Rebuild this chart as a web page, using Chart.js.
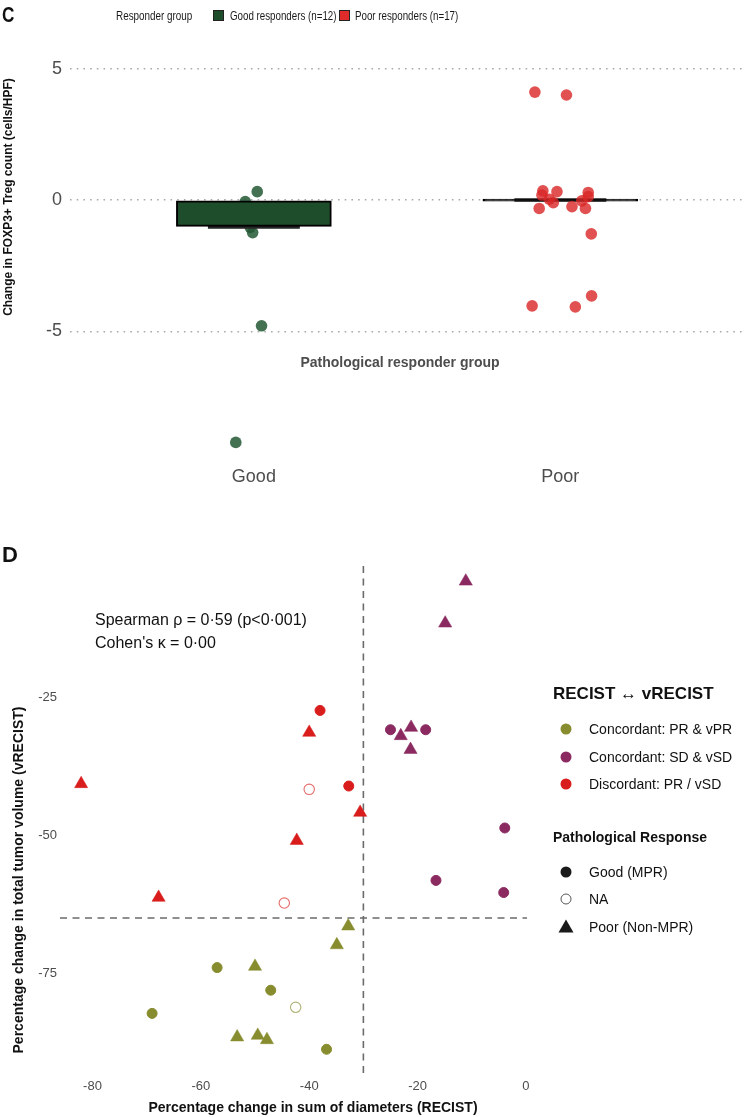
<!DOCTYPE html>
<html>
<head>
<meta charset="utf-8">
<script src="https://cdn.jsdelivr.net/npm/chart.js@4.4.1/dist/chart.umd.min.js"></script>
<style>
  html, body { margin: 0; padding: 0; background: #fff; }
  body { width: 750px; height: 1117px; position: relative; overflow: hidden;
         font-family: "Liberation Sans", Arial, sans-serif; }
  canvas { position: absolute; left: 0; }
  .t { position: absolute; white-space: nowrap; line-height: 1; transform-origin: left center; }
  .sq { position: absolute; width: 9px; height: 9px; border: 1px solid #222; }
</style>
</head>
<body>
<canvas id="chartC" width="750" height="540" style="top:0px"></canvas>
<canvas id="chartD" width="750" height="577" style="top:540px"></canvas>
<svg id="legD" width="40" height="240" style="position:absolute;left:546px;top:712px;overflow:visible"></svg>
<script>
// ---------------- Panel C data ----------------
const responderGroups = ['Good', 'Poor'];
const responderLegend = ['Good responders (n=12)', 'Poor responders (n=17)'];
const goodJitter = [1.011, 0.972, 0.937, 0.988, 0.996, 1.025, 0.941, 0.918, 1.047, 1.079, 0.966, 1.021];
const goodChange = [0.32, -0.06, -0.82, -1.04, -1.24, -4.79, -9.23, -0.35, -0.55, -0.25, -0.68, -0.45];
const poorJitter = [1.917, 2.020, 1.943, 1.989, 2.091, 1.940, 2.091, 1.964, 2.070, 1.977, 1.931, 2.038, 2.082, 2.101, 2.102, 1.908, 2.049];
const poorChange = [4.11, 4.00, 0.35, 0.32, 0.29, 0.19, 0.13, 0.03, -0.03, -0.10, -0.32, -0.25, -0.32, -1.29, -3.65, -4.03, -4.07];
const summaryBar = [-1.0, 0.0];
const summaryMedian = [-1.03, 0.0];
const yTicksC = [-5, 0, 5];

// ---------------- Panel D data ----------------
const xTicksD = [-80, -60, -40, -20, 0];
const yTicksD = [-25, -50, -75];
const recistCut = -30;
const vrecistCut = -65;
// Concordant PR & vPR
const prGoodX = [-57.0, -47.1, -69.0, -36.8];
const prGoodY = [-74.0, -78.1, -82.3, -88.8];
const prNaX = [-42.5];
const prNaY = [-81.2];
const prPoorX = [-32.8, -34.9, -50.0, -53.3, -49.5, -47.8];
const prPoorY = [-66.5, -69.9, -73.8, -86.6, -86.3, -87.1];
// Concordant SD & vSD
const sdGoodX = [-25.0, -18.5, -3.9, -16.6, -4.1];
const sdGoodY = [-30.9, -30.9, -48.7, -58.2, -60.4];
const sdPoorX = [-11.1, -14.9, -21.2, -23.1, -21.3];
const sdPoorY = [-4.0, -11.6, -30.5, -32.0, -34.5];
// Discordant PR / vSD
const dcGoodX = [-38.0, -32.7];
const dcGoodY = [-27.4, -41.1];
const dcNaX = [-40.0, -44.6];
const dcNaY = [-41.7, -62.3];
const dcPoorX = [-82.1, -40.0, -30.6, -42.3, -67.8];
const dcPoorY = [-40.7, -31.4, -45.9, -51.0, -61.3];

const concordLabels = ['Concordant: PR & vPR', 'Concordant: SD & vSD', 'Discordant: PR / vSD'];
const pathLabels = ['Good (MPR)', 'NA', 'Poor (Non-MPR)'];

// ---------------- styles ----------------
const FONT = '"Liberation Sans", Arial, sans-serif';
Chart.defaults.font.family = FONT;
const greenFill = '#1e4d2b';
const greenPt = 'rgba(35,88,52,0.85)';
const redFill = '#e02b2b';
const redPt = 'rgba(218,38,38,0.8)';
const olive = '#878c2e', purple = '#8b2a61', red = '#d91c1c';
const concordColors = [olive, purple, red];
function rgba(hex, a) {
  const n = parseInt(hex.slice(1), 16);
  return `rgba(${(n >> 16) & 255},${(n >> 8) & 255},${n & 255},${a})`;
}
const zip = (xs, ys) => xs.map((x, i) => ({ x: x, y: ys[i] }));

// ---------------- helper for HTML text ----------------
function addText(txt, left, cy, size, weight, color, sx) {
  const d = document.createElement('div');
  d.className = 't';
  d.textContent = txt;
  d.style.left = left + 'px';
  d.style.top = (cy - size / 2) + 'px';
  d.style.fontSize = size + 'px';
  d.style.fontWeight = weight;
  d.style.color = color;
  if (sx) d.style.transform = `scaleX(${sx})`;
  document.body.appendChild(d);
  return d;
}
function addSquare(left, top, color) {
  const d = document.createElement('div');
  d.className = 'sq';
  d.style.left = left + 'px';
  d.style.top = top + 'px';
  d.style.background = color;
  document.body.appendChild(d);
}

// ---------------- Panel C chart ----------------
const titlesC = {
  id: 'titlesC',
  afterDraw(chart) {
    const ctx = chart.ctx;
    ctx.save();
    ctx.fillStyle = '#111';
    ctx.font = `bold 12px ${FONT}`;
    ctx.textAlign = 'center';
    ctx.textBaseline = 'middle';
    ctx.translate(9, 197);
    ctx.rotate(-Math.PI / 2);
    ctx.fillText('Change in FOXP3+ Treg count (cells/HPF)', 0, 0);
    ctx.restore();
    ctx.save();
    ctx.fillStyle = '#4d4d4d';
    ctx.font = `bold 14px ${FONT}`;
    ctx.textAlign = 'center';
    ctx.textBaseline = 'middle';
    ctx.fillText('Pathological responder group', 400, 363);
    ctx.restore();
  }
};

const medianSegs = [];
responderGroups.forEach((g, i) => {
  if (i > 0) medianSegs.push({ x: i + 0.5, y: null });
  medianSegs.push({ x: i + 1 - 0.15, y: summaryMedian[i] });
  medianSegs.push({ x: i + 1 + 0.15, y: summaryMedian[i] });
});

new Chart(document.getElementById('chartC'), {
  type: 'scatter',
  data: {
    datasets: [
      {
        type: 'scatter', label: responderLegend[0], order: 5,
        data: zip(goodJitter, goodChange),
        backgroundColor: greenPt, borderWidth: 0, pointRadius: 5.8
      },
      {
        type: 'line', label: 'median', order: 4,
        data: medianSegs, spanGaps: false,
        borderColor: '#262626', borderWidth: 3.5, pointRadius: 0, fill: false
      },
      {
        type: 'bar', label: 'summary', order: 3,
        data: responderGroups.map((g, i) => ({ x: i + 1, y: summaryBar[i] })),
        backgroundColor: [greenFill, '#111111'], borderColor: '#000', borderWidth: 2,
        borderSkipped: false, barThickness: 155, minBarLength: 2
      },
      {
        type: 'scatter', label: responderLegend[1], order: 1,
        data: zip(poorJitter, poorChange),
        backgroundColor: redPt, borderWidth: 0, pointRadius: 5.8
      }
    ]
  },
  options: {
    responsive: false, animation: false, devicePixelRatio: 1,
    layout: { padding: { top: 53, right: 0, bottom: 0, left: 0 } },
    plugins: { legend: { display: false }, tooltip: { enabled: false } },
    scales: {
      x: {
        type: 'linear', min: 0.4, max: 2.6, offset: false,
        afterBuildTicks: s => { s.ticks = responderGroups.map((g, i) => ({ value: i + 1 })); },
        afterFit: s => { s.height = 80; },
        grid: { display: false, drawTicks: false, offset: false },
        border: { display: false },
        ticks: {
          autoSkip: false, maxRotation: 0, padding: 6,
          font: { size: 18 }, color: '#4d4d4d',
          callback: v => responderGroups[Math.round(v) - 1] || ''
        }
      },
      y: {
        type: 'linear', min: -9.9, max: 5.6,
        afterBuildTicks: s => { s.ticks = yTicksC.map(v => ({ value: v })); },
        afterFit: s => { s.width = 70; },
        grid: { color: '#a9a9a9', lineWidth: 1.6, drawTicks: false },
        border: { display: false, dash: [1.6, 5.1] },
        ticks: { padding: 8, font: { size: 18 }, color: '#4d4d4d' }
      }
    }
  },
  plugins: [titlesC]
});

// ---------------- Panel D chart ----------------
const xMinD = -86, xMaxD = 0.2, yMinD = -93.1, yMaxD = -0.5;

const titlesD = {
  id: 'titlesD',
  afterDraw(chart) {
    const ctx = chart.ctx;
    ctx.save();
    ctx.fillStyle = '#111';
    ctx.font = `bold 14px ${FONT}`;
    ctx.textAlign = 'center';
    ctx.textBaseline = 'middle';
    ctx.fillText('Percentage change in sum of diameters (RECIST)', 313, 568);
    ctx.translate(19, 340);
    ctx.rotate(-Math.PI / 2);
    ctx.fillText('Percentage change in total tumor volume (vRECIST)', 0, 0);
    ctx.restore();
  }
};

function solid(label, xs, ys, color) {
  return { type: 'scatter', label, data: zip(xs, ys), pointStyle: 'circle',
           backgroundColor: color, borderColor: color, borderWidth: 1, pointRadius: 5, order: 1 };
}
function open(label, xs, ys, color) {
  return { type: 'scatter', label, data: zip(xs, ys), pointStyle: 'circle',
           backgroundColor: 'rgba(0,0,0,0)', borderColor: rgba(color, 0.65), borderWidth: 1.1, pointRadius: 5.2, order: 1 };
}
function tri(label, xs, ys, color) {
  return { type: 'scatter', label, data: zip(xs, ys), pointStyle: 'triangle',
           backgroundColor: color, borderColor: color, borderWidth: 0.5, pointRadius: 7.6, order: 1 };
}

new Chart(document.getElementById('chartD'), {
  type: 'scatter',
  data: {
    datasets: [
      { type: 'line', label: 'RECIST cut', order: 9,
        data: [{ x: recistCut, y: yMinD }, { x: recistCut, y: yMaxD }],
        borderColor: '#6b6b6b', borderWidth: 1.6, borderDash: [7, 5.5], pointRadius: 0, fill: false },
      { type: 'line', label: 'vRECIST cut', order: 9,
        data: [{ x: xMinD, y: vrecistCut }, { x: xMaxD, y: vrecistCut }],
        borderColor: '#6b6b6b', borderWidth: 1.6, borderDash: [7, 5.5], pointRadius: 0, fill: false },
      solid(concordLabels[0] + ' / ' + pathLabels[0], prGoodX, prGoodY, olive),
      open(concordLabels[0] + ' / ' + pathLabels[1], prNaX, prNaY, olive),
      tri(concordLabels[0] + ' / ' + pathLabels[2], prPoorX, prPoorY, olive),
      solid(concordLabels[1] + ' / ' + pathLabels[0], sdGoodX, sdGoodY, purple),
      tri(concordLabels[1] + ' / ' + pathLabels[2], sdPoorX, sdPoorY, purple),
      solid(concordLabels[2] + ' / ' + pathLabels[0], dcGoodX, dcGoodY, red),
      open(concordLabels[2] + ' / ' + pathLabels[1], dcNaX, dcNaY, red),
      tri(concordLabels[2] + ' / ' + pathLabels[2], dcPoorX, dcPoorY, red)
    ]
  },
  options: {
    responsive: false, animation: false, devicePixelRatio: 1,
    layout: { padding: { top: 22, right: 223, bottom: 0, left: 0 } },
    plugins: { legend: { display: false }, tooltip: { enabled: false } },
    scales: {
      x: {
        type: 'linear', min: xMinD, max: xMaxD,
        afterBuildTicks: s => { s.ticks = xTicksD.map(v => ({ value: v })); },
        afterFit: s => { s.height = 44; },
        grid: { display: false, drawTicks: false },
        border: { display: false },
        ticks: { padding: 6, font: { size: 13 }, color: '#4d4d4d', maxRotation: 0, autoSkip: false }
      },
      y: {
        type: 'linear', min: yMinD, max: yMaxD,
        afterBuildTicks: s => { s.ticks = yTicksD.map(v => ({ value: v })); },
        afterFit: s => { s.width = 60; },
        grid: { display: false, drawTicks: false },
        border: { display: false },
        ticks: { padding: 3, font: { size: 13 }, color: '#4d4d4d' }
      }
    }
  },
  plugins: [titlesD]
});

// ---------------- HTML text: panel letters, legends, annotations ----------------
addText('C', 2, 15, 22, 'bold', '#111', 0.78);
addText('Responder group', 116, 15, 13, 'normal', '#1a1a1a', 0.76);
addSquare(213, 10, greenFill);
addText(responderLegend[0], 230, 15, 13, 'normal', '#1a1a1a', 0.75);
addSquare(339, 10, redFill);
addText(responderLegend[1], 355, 15, 13, 'normal', '#1a1a1a', 0.75);

addText('D', 2, 555, 22, 'bold', '#111');
addText('Spearman \u03c1 = 0\u00b759 (p<0\u00b7001)', 95, 620, 16, 'normal', '#111');
addText("Cohen's \u03ba = 0\u00b700", 95, 643, 16, 'normal', '#111');

addText('RECIST \u2194 vRECIST', 553, 693, 17, 'bold', '#111');
const legYs1 = [729, 757, 784];
concordLabels.forEach((l, i) => addText(l, 589, legYs1[i], 14, 'normal', '#111'));
addText('Pathological Response', 553, 837, 14, 'bold', '#111');
const legYs2 = [872, 899, 927];
pathLabels.forEach((l, i) => addText(l, 589, legYs2[i], 14, 'normal', '#111'));

// legend glyphs (svg positioned at left 546, top 712)
(function () {
  const svg = document.getElementById('legD');
  const ns = 'http://www.w3.org/2000/svg';
  const ox = 546, oy = 712, cx = 566 - ox;
  concordColors.forEach((c, i) => {
    const e = document.createElementNS(ns, 'circle');
    e.setAttribute('cx', cx); e.setAttribute('cy', legYs1[i] - oy); e.setAttribute('r', 5.5);
    e.setAttribute('fill', c);
    svg.appendChild(e);
  });
  let e = document.createElementNS(ns, 'circle');
  e.setAttribute('cx', cx); e.setAttribute('cy', legYs2[0] - oy); e.setAttribute('r', 5.5);
  e.setAttribute('fill', '#1a1a1a'); svg.appendChild(e);
  e = document.createElementNS(ns, 'circle');
  e.setAttribute('cx', cx); e.setAttribute('cy', legYs2[1] - oy); e.setAttribute('r', 5);
  e.setAttribute('fill', 'none'); e.setAttribute('stroke', '#555'); e.setAttribute('stroke-width', 1);
  svg.appendChild(e);
  const ty = legYs2[2] - oy;
  e = document.createElementNS(ns, 'polygon');
  e.setAttribute('points', `${cx},${ty - 7.5} ${cx + 7.5},${ty + 5.5} ${cx - 7.5},${ty + 5.5}`);
  e.setAttribute('fill', '#1a1a1a'); svg.appendChild(e);
})();
</script>
</body>
</html>
